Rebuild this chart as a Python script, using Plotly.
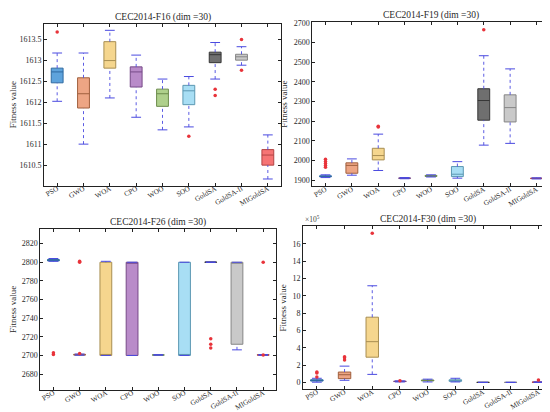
import plotly.graph_objects as go

algos = ["PSO", "GWO", "WOA", "CPO", "WOO", "SOO", "GoldSA", "GoldSA-II", "MIGoldSA"]
fills = ["#5ea3dc", "#eda584", "#f5d68e", "#b98bc9", "#afd08c", "#a8def4", "#6f6f6f", "#c9c9c9", "#f67474"]
edges = ["#2f6aa0", "#a0603e", "#a88e52", "#774a88", "#6d8c4d", "#5c98b2", "#363636", "#858585", "#b24444"]

# F16
f16_lo = [1612.03, 1611.01, 1612.11, 1611.65, 1611.35, 1611.42, 1612.56, 1612.89, 1610.18]
f16_q1 = [1612.47, 1611.87, 1612.82, 1612.37, 1611.91, 1611.95, 1612.95, 1613.01, 1610.51]
f16_med = [1612.73, 1612.21, 1613.00, 1612.73, 1612.21, 1612.28, 1613.14, 1613.09, 1610.75]
f16_q3 = [1612.82, 1612.59, 1613.45, 1612.85, 1612.32, 1612.41, 1613.20, 1613.15, 1610.88]
f16_hi = [1613.18, 1613.18, 1613.72, 1613.13, 1612.56, 1612.62, 1613.43, 1613.33, 1611.23]
f16_out = [[1613.68], [], [], [], [], [1611.20], [1612.32, 1612.17], [1613.50, 1612.77], []]
f16_ticks = [1610.5, 1611, 1611.5, 1612, 1612.5, 1613, 1613.5]

# F19
f19_lo = [1913, 1925, 1949, 1907, 1916, 1910, 2078, 2087, 1906]
f19_q1 = [1917, 1935, 2003, 1909, 1919, 1918, 2205, 2196, 1908]
f19_med = [1919, 1975, 2025, 1910, 1921, 1930, 2305, 2269, 1909]
f19_q3 = [1922, 1988, 2062, 1911, 1924, 1969, 2365, 2334, 1910]
f19_hi = [1927, 2008, 2134, 1913, 1927, 1994, 2533, 2466, 1912]
f19_out = [[1966, 1975, 1985, 1995, 2006], [], [2170, 2174], [], [], [], [2665], [], []]
f19_ticks = [1900, 2000, 2100, 2200, 2300, 2400, 2500, 2600, 2700]

# F26
f26_lo = [2801.0, 2700.2, 2700.0, 2700.0, 2700.2, 2700.0, 2799.8, 2706.0, 2700.1]
f26_q1 = [2801.5, 2700.4, 2700.0, 2700.0, 2700.3, 2700.0, 2800.0, 2712.0, 2700.3]
f26_med = [2802.0, 2700.8, 2700.0, 2800.0, 2700.5, 2700.5, 2800.0, 2800.0, 2700.5]
f26_q3 = [2803.0, 2701.2, 2800.0, 2800.0, 2700.7, 2800.0, 2800.2, 2800.0, 2700.8]
f26_hi = [2804.0, 2701.5, 2801.0, 2800.0, 2700.9, 2800.0, 2800.3, 2800.0, 2701.0]
f26_out = [[2701.0, 2703.0], [2800.0, 2801.0, 2702.0], [], [], [], [], [2718.0, 2712.0, 2708.0], [], [2800.0, 2700.6]]
f26_ticks = [2680, 2700, 2720, 2740, 2760, 2780, 2800, 2820]

# F30
f30_lo = [0.05e5, 0.27e5, 0.95e5, 0.08e5, 0.08e5, 0.08e5, 0.02e5, 0.02e5, 0.02e5]
f30_q1 = [0.18e5, 0.46e5, 2.93e5, 0.12e5, 0.20e5, 0.15e5, 0.025e5, 0.025e5, 0.04e5]
f30_med = [0.25e5, 0.91e5, 4.72e5, 0.14e5, 0.25e5, 0.24e5, 0.03e5, 0.03e5, 0.05e5]
f30_q3 = [0.33e5, 1.22e5, 7.54e5, 0.17e5, 0.30e5, 0.33e5, 0.035e5, 0.035e5, 0.07e5]
f30_hi = [0.50e5, 1.90e5, 11.16e5, 0.20e5, 0.40e5, 0.50e5, 0.04e5, 0.04e5, 0.09e5]
f30_out = [[1.22e5, 1.10e5, 0.65e5], [2.97e5, 2.86e5, 2.60e5], [17.2e5], [0.22e5], [], [], [], [], [0.30e5]]
f30_ticks = [0, 2e5, 4e5, 6e5, 8e5, 10e5, 12e5, 14e5, 16e5]

titles = ["CEC2014-F16 (dim =30)", "CEC2014-F19 (dim =30)", "CEC2014-F26 (dim =30)", "CEC2014-F30 (dim =30)"]
panels = [
    (f16_lo, f16_q1, f16_med, f16_q3, f16_hi, f16_out),
    (f19_lo, f19_q1, f19_med, f19_q3, f19_hi, f19_out),
    (f26_lo, f26_q1, f26_med, f26_q3, f26_hi, f26_out),
    (f30_lo, f30_q1, f30_med, f30_q3, f30_hi, f30_out),
]
tick_sets = [
    (f16_ticks, [f"{v:g}" for v in f16_ticks]),
    (f19_ticks, [f"{v:g}" for v in f19_ticks]),
    (f26_ticks, [f"{v:g}" for v in f26_ticks]),
    (f30_ticks, [f"{v/1e5:g}" for v in f30_ticks]),
]

W, H = 550, 412
# pixel boxes (left, right, top, bottom)
boxes_px = [(36, 273, 12.7, 176), (304.3, 541.7, 11, 176.7), (32.3, 268.3, 219.3, 381.7), (295, 544.3, 217, 381)]
yranges = [[1610.02, 1613.88], [1868, 2705], [2663, 2836], [-0.76e5, 18e5]]

FONT = "Liberation Serif"
TXT = "#2a2a2a"
fig = go.Figure()
whisk_col = "#4a4ae0"
out_col = "#e8333a"
positions = list(range(1, len(algos) + 1))

layout = dict(
    width=W, height=H, margin=dict(l=0, r=0, t=0, b=0),
    paper_bgcolor="white", plot_bgcolor="white", showlegend=False,
    font=dict(family=FONT, size=8, color=TXT),
    boxmode="overlay",
)
annotations = []
for p, (lo, q1, med, q3, hi, outs) in enumerate(panels):
    xa = "x" if p == 0 else f"x{p+1}"
    ya = "y" if p == 0 else f"y{p+1}"
    l, r, t, b = boxes_px[p]
    xkey = "xaxis" if p == 0 else f"xaxis{p+1}"
    ykey = "yaxis" if p == 0 else f"yaxis{p+1}"
    layout[xkey] = dict(
        domain=[l / W, r / W], anchor=ya, range=[0.5, len(algos) + 0.5],
        tickvals=positions, ticktext=algos, tickangle=-30, ticklabelstandoff=-5,
        showline=True, mirror="allticks", linecolor="#222", linewidth=1,
        ticks="inside", ticklen=3, tickcolor="#222", showgrid=False, zeroline=False,
        tickfont=dict(family=FONT, size=7.2, color=TXT),
    )
    tv, tt = tick_sets[p]
    layout[ykey] = dict(
        domain=[1 - b / H, 1 - t / H], anchor=xa, range=yranges[p],
        tickvals=tv, ticktext=tt,
        showline=True, mirror="allticks", linecolor="#222", linewidth=1,
        ticks="inside", ticklen=3, tickcolor="#222", showgrid=False, zeroline=False,
        tickfont=dict(family=FONT, size=8, color=TXT),
        title=dict(text="Fitness value", font=dict(family=FONT, size=9, color=TXT), standoff=4),
    )

    annotations.append(dict(
        text=titles[p], xref="paper", yref="paper", x=(l + r) / 2 / W, y=1 - t / H,
        xanchor="center", yanchor="bottom", showarrow=False, yshift=-1,
        font=dict(family=FONT, size=9.5, color=TXT),
    ))
    if p == 3:
        annotations.append(dict(
            text="×10<sup>5</sup>", xref="paper", yref="paper", x=l / W, y=1 - t / H,
            xanchor="left", yanchor="bottom", showarrow=False, xshift=0,
            font=dict(family=FONT, size=7.5, color="#444"),
        ))

    for i, name in enumerate(algos):
        xi = positions[i]
        fig.add_trace(go.Scatter(
            x=[xi, xi, None, xi, xi], y=[lo[i], q1[i], None, q3[i], hi[i]],
            mode="lines", line=dict(color=whisk_col, width=0.9, dash="dot"),
            xaxis=xa, yaxis=ya, hoverinfo="skip",
        ))
        fig.add_trace(go.Scatter(
            x=[xi, xi], y=[lo[i], hi[i]], mode="markers",
            marker=dict(symbol="line-ew", size=7, line=dict(color=whisk_col, width=1)),
            xaxis=xa, yaxis=ya, hoverinfo="skip",
        ))
        fig.add_trace(go.Box(
            x=[xi], q1=[q1[i]], median=[med[i]], q3=[q3[i]],
            lowerfence=[q1[i]], upperfence=[q3[i]], width=0.45, whiskerwidth=0,
            fillcolor=fills[i], line=dict(color=edges[i], width=1),
            xaxis=xa, yaxis=ya, name=name, boxpoints=False,
        ))
        if outs[i]:
            fig.add_trace(go.Scatter(
                x=[xi] * len(outs[i]), y=outs[i], mode="markers",
                marker=dict(symbol="circle", size=3.5, color=out_col),
                xaxis=xa, yaxis=ya, hoverinfo="skip",
            ))

layout["annotations"] = annotations
fig.update_layout(**layout)
fig.write_html("out.html")
